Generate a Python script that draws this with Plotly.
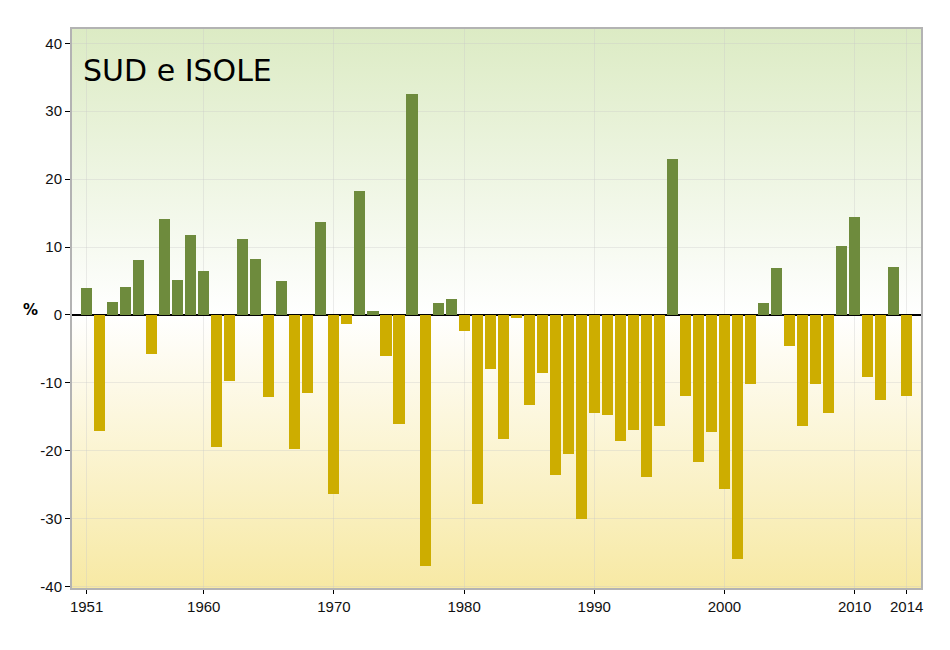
import base64
import plotly.graph_objects as go

years = list(range(1951, 2015))
values = [
    4.0, -17.1, 1.9, 4.1, 8.1, -5.7, 14.1, 5.1, 11.8, 6.5,
    -19.5, -9.7, 11.2, 8.2, -12.1, 5.0, -19.7, -11.5, 13.7, -26.4,
    -1.4, 18.2, 0.6, -6.0, -16.0, 32.5, -36.9, 1.8, 2.3, -2.3,
    -27.9, -7.9, -18.2, -0.4, -13.3, -8.6, -23.6, -20.5, -30.1, -14.4,
    -14.7, -18.5, -17.0, -23.8, -16.3, 22.9, -11.9, -21.6, -17.2, -25.6,
    -36.0, -10.1, 1.8, 6.9, -4.6, -16.3, -10.1, -14.4, 10.1, 14.4,
    -9.1, -12.5, 7.1, -11.9,
]
x_ticks = [1951, 1960, 1970, 1980, 1990, 2000, 2010, 2014]
y_ticks = [-40, -30, -20, -10, 0, 10, 20, 30, 40]
y_tick_labels = ["-40", "-30", "-20", "-10", "0", "10", "20", "30", "40"]

POS = "#6e8b3d"
NEG = "#cdad00"
colors = [POS if v >= 0 else NEG for v in values]

y_lo, y_hi = -40.2, 42.1
zero_frac = y_hi / (y_hi - y_lo)

svg = (
    '<svg xmlns="http://www.w3.org/2000/svg" width="100" height="100" preserveAspectRatio="none">'
    '<defs><linearGradient id="g" x1="0" y1="0" x2="0" y2="1">'
    '<stop offset="0" stop-color="#dcebc4"/>'
    f'<stop offset="{zero_frac:.4f}" stop-color="#ffffff"/>'
    '<stop offset="1" stop-color="#f7e9a4"/>'
    '</linearGradient></defs>'
    '<rect x="0" y="0" width="100" height="100" fill="url(#g)"/></svg>'
)
svg_uri = "data:image/svg+xml;base64," + base64.b64encode(svg.encode()).decode()

fig = go.Figure()
fig.add_trace(go.Bar(
    x=years, y=values, width=0.85,
    marker=dict(color=colors, line=dict(width=0)),
    hoverinfo="x+y",
))

fig.update_layout(
    width=950, height=650,
    margin=dict(l=64, r=37, t=21, b=70),
    paper_bgcolor="white",
    plot_bgcolor="white",
    showlegend=False,
    bargap=0,
    images=[dict(
        source=svg_uri, xref="paper", yref="paper", x=0, y=1,
        sizex=1, sizey=1, sizing="stretch", xanchor="left", yanchor="top",
        layer="below",
    )],
    font=dict(family="Liberation Sans, Arial, sans-serif", size=15, color="#111111"),
)

fig.update_xaxes(
    range=[1949.88, 2015.1],
    tickvals=x_ticks, ticktext=[str(t) for t in x_ticks],
    ticks="outside", ticklen=4, tickcolor="black", tickwidth=1,
    showgrid=True, gridcolor="rgba(200,200,200,0.35)", gridwidth=1,
    showline=True, mirror=True, linecolor="#b3b3b3", linewidth=2,
    zeroline=False,
)
fig.update_yaxes(
    range=[y_lo, y_hi],
    tickvals=y_ticks, ticktext=y_tick_labels,
    ticks="outside", ticklen=5, tickcolor="black", tickwidth=1,
    showgrid=True, gridcolor="rgba(200,200,200,0.35)", gridwidth=1,
    showline=True, mirror=True, linecolor="#b3b3b3", linewidth=2,
    zeroline=True, zerolinecolor="black", zerolinewidth=1.5,
)

fig.add_annotation(
    text="SUD e ISOLE", xref="paper", yref="paper",
    x=0.011, y=0.925, xanchor="left", yanchor="middle", showarrow=False,
    font=dict(family="DejaVu Sans", size=30, color="black"),
)
fig.add_annotation(
    text="<b>%</b>", xref="paper", yref="y",
    x=(30 - 72) / 849, y=0, yshift=5, xanchor="center", yanchor="middle",
    showarrow=False,
    font=dict(family="DejaVu Sans", size=15, color="black"),
)

fig.write_html("out.html")
